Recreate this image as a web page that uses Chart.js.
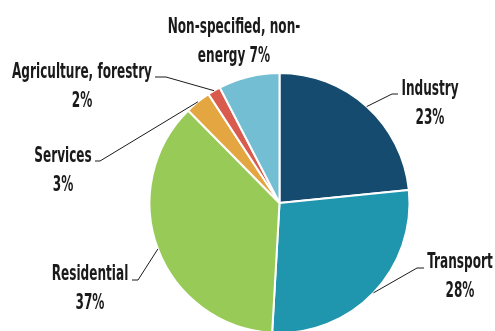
<!DOCTYPE html>
<html>
<head>
<meta charset="utf-8">
<script src="https://cdn.jsdelivr.net/npm/chart.js@4/dist/chart.umd.min.js"></script>
<style>
  html, body { margin: 0; padding: 0; background: #ffffff; overflow: hidden; }
  #wrap { width: 495px; height: 331px; overflow: hidden; }
</style>
</head>
<body>
<div id="wrap"><canvas id="chartPie" width="495" height="340"></canvas></div>
<script>
//---------------------------data---------------------------
var categories = ["Industry", "Transport", "Residential", "Services", "Agriculture, forestry", "Non-specified, non-energy"];
var shares = [23.4, 27.5, 36.7, 3.2, 1.6, 7.6];
var shareLabels = ["23%", "28%", "37%", "3%", "2%", "7%"];
var sliceColors = ["#164b70", "#1f96ae", "#98ca57", "#e3a640", "#d95b4e", "#74bed4"];

// text lines per slice and where they sit (leader elbow, text centre, first baseline)
var labelLayout = [
  { lines: ["Industry", shareLabels[0]], elbow: [392, 94], stub: 398, cx: 430, y: 95 },
  { lines: ["Transport", shareLabels[1]], elbow: [417, 268], stub: 424, cx: 460, y: 268 },
  { lines: ["Residential", shareLabels[2]], elbow: [138, 280], stub: 132, cx: 90, y: 280 },
  { lines: ["Services", shareLabels[3]], elbow: [100, 161], stub: 95, cx: 63, y: 162 },
  { lines: ["Agriculture, forestry", shareLabels[4]], elbow: [166, 77], stub: 155, cx: 82, y: 78 },
  { lines: ["Non-specified, non-", "energy " + shareLabels[5]], elbow: null, stub: null, cx: 234, y: 33 }
];

document.addEventListener('DOMContentLoaded', function () {
  insertPieChart();
});

var pieLabels = {
  id: 'pieLabels',
  afterDatasetsDraw: function (chart) {
    var ctx = chart.ctx;
    var arcs = chart.getDatasetMeta(0).data;
    ctx.save();
    ctx.font = "bold 21px 'Liberation Sans Narrow', 'DejaVu Sans Condensed', sans-serif";
    // squeeze the text so it reads like the narrow face of the original
    var squeeze = 140 / ctx.measureText("Agriculture, forestry").width;
    for (var i = 0; i < arcs.length; i++) {
      var arc = arcs[i];
      var lay = labelLayout[i];
      var mid = (arc.startAngle + arc.endAngle) / 2;
      if (lay.elbow) {
        var sx = arc.x + Math.cos(mid) * arc.outerRadius;
        var sy = arc.y + Math.sin(mid) * arc.outerRadius;
        ctx.beginPath();
        ctx.strokeStyle = "#1a1a1a";
        ctx.lineWidth = 1;
        ctx.moveTo(sx, sy);
        ctx.lineTo(lay.elbow[0], lay.elbow[1]);
        ctx.lineTo(lay.stub, lay.elbow[1]);
        ctx.stroke();
      }
      ctx.fillStyle = "#1a1a1a";
      ctx.textAlign = "center";
      ctx.textBaseline = "alphabetic";
      for (var j = 0; j < lay.lines.length; j++) {
        ctx.save();
        ctx.translate(lay.cx, lay.y + j * 29);
        ctx.scale(squeeze, 1);
        ctx.fillText(lay.lines[j], 0, 0);
        ctx.restore();
      }
    }
    ctx.restore();
  }
};

function insertPieChart() {
  new Chart(document.getElementById("chartPie"), {
    type: "pie",
    data: {
      labels: categories,
      datasets: [
        {
          data: shares,
          backgroundColor: sliceColors,
          borderColor: "#ffffff",
          borderWidth: 2
        }
      ]
    },
    options: {
      responsive: false,
      animation: false,
      layout: { padding: { top: 72, bottom: 6, left: 148, right: 84 } },
      plugins: {
        legend: { display: false },
        tooltip: { enabled: false }
      }
    },
    plugins: [pieLabels]
  });
}
</script>
</body>
</html>
